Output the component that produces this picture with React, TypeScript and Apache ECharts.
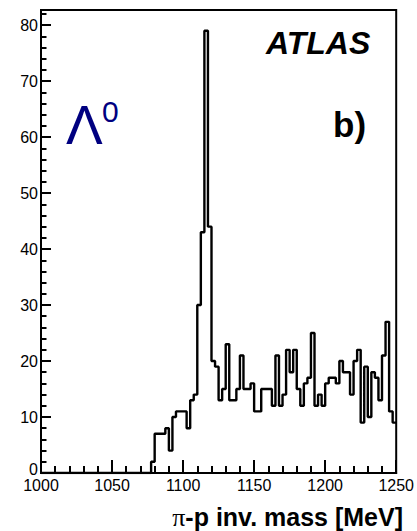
import React, { useEffect, useRef } from 'react';
import * as echarts from 'echarts';

// Histogram: pi-p invariant mass, 2.5 MeV bins from 1000 to 1250 MeV
const binLow = 1000;
const binWidth = 2.5;
const counts: number[] = [
  0, 0, 0, 0, 0, 0, 0, 0, 0, 0,
  0, 0, 0, 0, 0, 0, 0, 0, 0, 0,
  0, 0, 0, 0, 0, 0, 0, 0, 0, 0,
  0, 2, 7, 7, 7, 8, 4, 10, 11, 11,
  11, 8, 13, 14, 30, 43, 79, 44, 20, 19,
  13, 15, 23, 13, 13, 15, 21, 15, 15, 16,
  11, 11, 15, 15, 15, 12, 21, 12, 14, 22,
  18, 22, 15, 12, 16, 17, 25, 12, 14, 12,
  16, 17, 17, 16, 20, 18, 18, 14, 20, 22,
  9, 19, 10, 18, 17, 13, 21, 27, 11, 9,
];
const xMin = 1000;
const xMax = 1250;
const xMajor = 50;
const yMin = 0;
const yMax = 82.7;
const yMajor = 10;
const yMinor = 2;

const FONT = '"Liberation Sans", Arial, Helvetica, sans-serif';

export default function App() {
  const ref = useRef<HTMLDivElement>(null);
  useEffect(() => {
    if (!ref.current) return;
    const chart = echarts.init(ref.current, null, { renderer: 'svg' });
    const data: number[][] = counts.map((c, i) => [binLow + i * binWidth, c]);
    data.push([binLow + counts.length * binWidth, counts[counts.length - 1]]);

    chart.setOption({
      animation: false,
      backgroundColor: '#fff',
      grid: {
        left: 41,
        right: 15,
        top: 10,
        bottom: 58,
        show: true,
        borderColor: '#000',
        borderWidth: 2,
        backgroundColor: 'transparent',
      },
      xAxis: {
        type: 'value',
        min: xMin,
        max: xMax,
        interval: xMajor,
        position: 'bottom',
        axisLine: { show: true, onZero: false, lineStyle: { color: '#000', width: 2 } },
        axisTick: { show: true, inside: true, length: 13, lineStyle: { color: '#000', width: 2 } },
        minorTick: { show: true, splitNumber: 5, length: 7, lineStyle: { color: '#000', width: 2 } },
        axisLabel: {
          color: '#000',
          fontSize: 16,
          lineHeight: 11,
          margin: 7,
          fontFamily: FONT,
          showMinLabel: true,
          showMaxLabel: true,
          formatter: (v: number) => String(v),
        },
        splitLine: { show: false },
        minorSplitLine: { show: false },
      },
      yAxis: [
        {
          type: 'value',
          min: yMin,
          max: yMax,
          interval: yMajor,
          position: 'left',
          axisLine: { show: true, onZero: false, lineStyle: { color: '#000', width: 2 } },
          axisTick: { show: true, inside: true, length: 10, lineStyle: { color: '#000', width: 2 } },
          axisLabel: {
            color: '#000',
            fontSize: 16,
            lineHeight: 10,
            margin: 3,
            fontFamily: FONT,
            showMaxLabel: false,
            formatter: (v: number) => {
              if (Math.abs(v % yMajor) > 1e-6) return '';
              return v === 0 ? '{z|0}' : String(v);
            },
            rich: {
              z: { fontSize: 16, lineHeight: 10, fontFamily: FONT, color: '#000', padding: [0, 0, 8, 0] },
            },
          },
          splitLine: { show: false },
        },
        {
          type: 'value',
          min: yMin,
          max: yMax,
          interval: yMinor,
          position: 'left',
          offset: 0,
          axisLine: { show: false },
          axisTick: { show: true, inside: true, length: 5.5, lineStyle: { color: '#000', width: 2 } },
          axisLabel: { show: false },
          splitLine: { show: false },
        },
      ],
      series: [
        {
          type: 'line',
          step: 'end',
          data,
          yAxisIndex: 0,
          symbol: 'none',
          lineStyle: { color: '#000', width: 2.4 },
          silent: true,
        },
      ],
      graphic: [
        {
          type: 'text',
          x: 266,
          y: 43,
          style: {
            text: 'ATLAS',
            fill: '#000',
            font: `italic bold 32px ${FONT}`,
            textAlign: 'left',
            textVerticalAlign: 'middle',
          },
        },
        {
          type: 'text',
          x: 333,
          y: 124,
          style: {
            text: 'b)',
            fill: '#000',
            font: `bold 35px ${FONT}`,
            textAlign: 'left',
            textVerticalAlign: 'middle',
          },
        },
        {
          type: 'text',
          x: 66,
          y: 125,
          style: {
            text: 'Λ',
            fill: '#000080',
            font: `55px ${FONT}`,
            textAlign: 'left',
            textVerticalAlign: 'middle',
          },
        },
        {
          type: 'text',
          x: 102,
          y: 111,
          style: {
            text: '0',
            fill: '#000080',
            font: `30px ${FONT}`,
            textAlign: 'left',
            textVerticalAlign: 'middle',
          },
        },
        {
          type: 'text',
          x: 403,
          y: 517,
          style: {
            text: '{pi|π}{t|-p inv. mass [MeV]}',
            textAlign: 'right',
            textVerticalAlign: 'middle',
            rich: {
              pi: { fontFamily: '"Liberation Serif", "Times New Roman", serif', fontSize: 26, fill: '#000', fontWeight: 'normal' },
              t: { fontFamily: FONT, fontSize: 25, fontWeight: 'bold', fill: '#000' },
            },
          },
        },
      ],
    });
    return () => chart.dispose();
  }, []);
  return (
    <div
      ref={ref}
      style={{ position: 'fixed', left: 0, top: 0, width: 417, height: 531, background: '#fff' }}
    />
  );
}
